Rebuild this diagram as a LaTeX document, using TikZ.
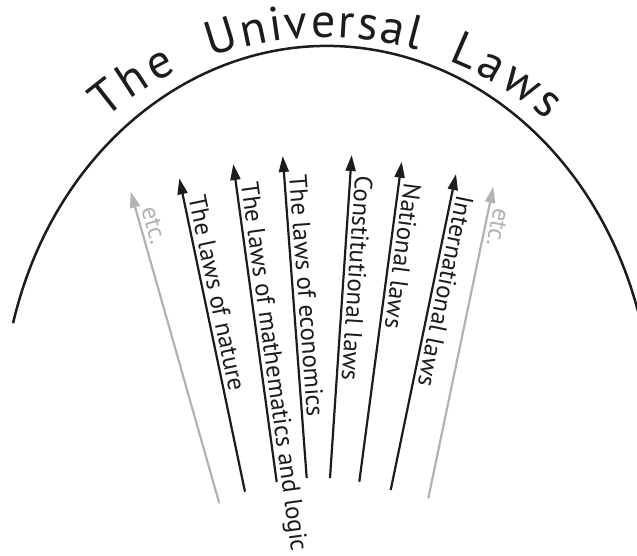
\documentclass[tikz,border=0pt]{standalone}
\usepackage{fontspec}
\setmainfont{PT Sans}
\usetikzlibrary{arrows.meta,calc,decorations.text}
\definecolor{ink}{RGB}{28,28,28}
\definecolor{pale}{RGB}{178,178,178}
\newcommand\ttlfnt{\fontsize{48}{48}\selectfont\color{ink}}
\newcommand\lawarrow[6]{%
  \coordinate (s#1) at (#2);
  \coordinate (e#1) at (#3);
  \draw[#4] (s#1) -- (e#1);
  \coordinate (p#1) at ($(e#1)!20pt!(s#1)$);
  \coordinate (q#1) at ($(p#1)!5pt!90:(s#1)$);
  \path let \p1=($(s#1)-(e#1)$), \n1={atan2(\y1,\x1)} in
    node[#5, rotate=\n1] (l#1) at (q#1) {#6};
}
\newcommand\titleword[3]{%
  \path[decorate, decoration={text along path, text={|\ttlfnt|#1},
      text align={fit to path}}]
    (325,-375.4) ++(#2:338) arc[start angle=#2, end angle=#3, radius=338];
}
\begin{document}
\begin{tikzpicture}[x=1pt,y=1pt,
  lawline/.style={line width=2.2pt, draw=ink, -{Triangle[length=16pt,width=10pt]}},
  etcline/.style={lawline, draw=pale},
  lbl/.style={anchor=base west, inner sep=0pt, text=ink, font=\fontsize{25}{25}\selectfont},
  etclbl/.style={lbl, text=pale}]
\useasboundingbox (0,0) rectangle (637,-555);
\clip (0,0) rectangle (637,-555);
\draw[line width=2.5pt, ink] (327,-420) ++(165:325 and 374)
  arc[start angle=165, end angle=14, x radius=325, y radius=374];
\titleword{The}{130.5}{116}
\titleword{Universal}{109.7}{74.1}
\titleword{Laws}{68.6}{49}
\lawarrow{1}{219.3,-503.3}{130.7,-191.7}{etcline}{etclbl}{etc.}
\lawarrow{2}{245,-491.7}{179.3,-178.3}{lawline}{lbl}{The laws of nature}
\lawarrow{3}{276.7,-482}{233.3,-164}{lawline}{lbl}{The laws of mathematics and logic}
\lawarrow{4}{306.7,-478}{282.7,-156}{lawline}{lbl}{The laws of economics}
\lawarrow{5}{330,-478}{351.7,-155}{lawline}{lbl}{Constitutional laws}
\lawarrow{6}{359.3,-481.7}{401.7,-161.7}{lawline}{lbl}{National laws}
\lawarrow{7}{390.7,-490}{456,-174}{lawline}{lbl}{International laws}
\lawarrow{8}{428.3,-498.3}{493.3,-186.7}{etcline}{etclbl}{etc.}
\end{tikzpicture}
\end{document}
